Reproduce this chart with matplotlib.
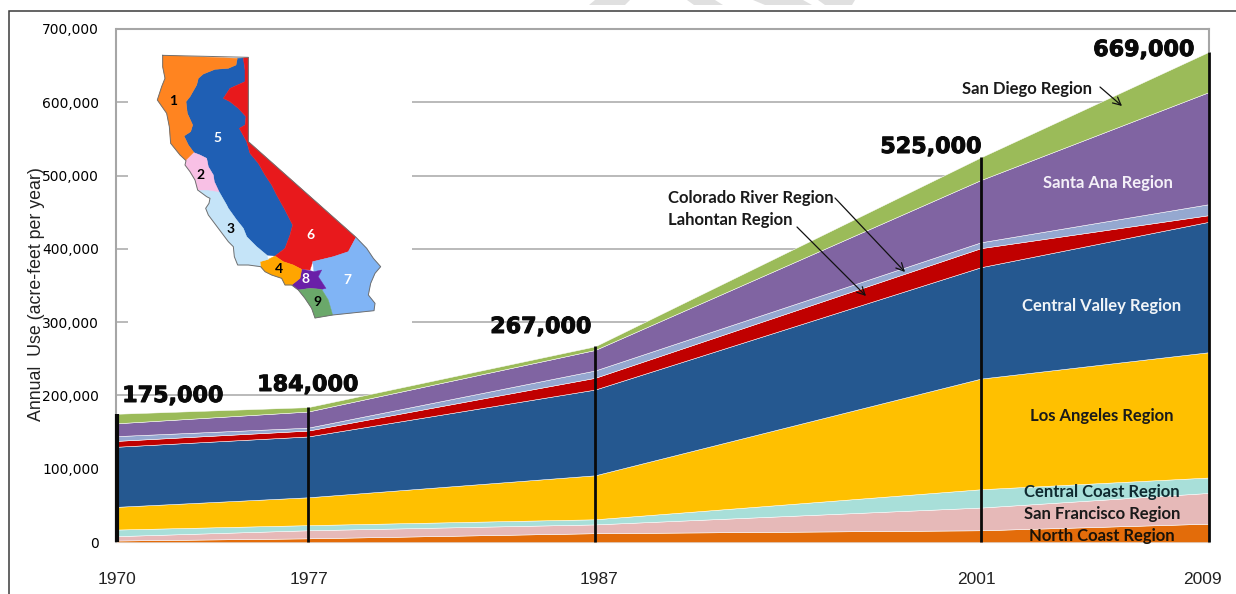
import numpy as np
import matplotlib
matplotlib.use("Agg")
import matplotlib.pyplot as plt
import matplotlib.patheffects as pe
from matplotlib.patches import Polygon, Rectangle
from matplotlib.transforms import ScaledTranslation

# ---- data (acre-feet per year, by region)
years = [1970, 1977, 1987, 2001, 2009]
north_coast = [2000, 5000, 12000, 16000, 25000]
san_francisco = [6000, 11000, 12000, 31000, 42000]
central_coast = [9000, 7000, 7000, 25000, 21000]
los_angeles = [31000, 38000, 60000, 151000, 171000]
central_valley = [82000, 83000, 117000, 152000, 178000]
lahontan = [8000, 8000, 16000, 26000, 9000]
colorado_river = [6500, 4000, 10000, 8000, 15000]
santa_ana = [17500, 22000, 28000, 85000, 153000]
san_diego = [13000, 6000, 5000, 31000, 55000]
totals = [175000, 184000, 267000, 525000, 669000]
total_labels = ["175,000", "184,000", "267,000", "525,000", "669,000"]
region_names = ["North Coast Region", "San Francisco Region", "Central Coast Region",
                "Los Angeles Region", "Central Valley Region", "Lahontan Region",
                "Colorado River Region", "Santa Ana Region", "San Diego Region"]
region_colors = ["#e36c0a", "#e6b9b8", "#a8dfd9", "#ffc000", "#255890",
                 "#c00000", "#95a8d0", "#8064a2", "#9bbb59"]
y_ticks = [0, 100000, 200000, 300000, 400000, 500000, 600000, 700000]

W, H = 1236, 594
fig = plt.figure(figsize=(W / 100, H / 100), dpi=100, facecolor="white")
AX_L, AX_R, AX_T, AX_B = 117, 1209, 29, 542
ax = fig.add_axes([AX_L / W, 1 - AX_B / H, (AX_R - AX_L) / W, (AX_B - AX_T) / H])

# The original axis is slightly uneven in time: keep its spacing
year_pos = np.array([0, 191, 478, 864, 1092], dtype=float)
ax.set_xscale("function", functions=(lambda v: np.interp(v, years, year_pos),
                                     lambda v: np.interp(v, year_pos, years)))
ax.set_xlim(1970, 2009)
ax.set_ylim(0, 700000)

ax.stackplot(years, north_coast, san_francisco, central_coast, los_angeles, central_valley,
             lahontan, colorado_river, santa_ana, san_diego,
             colors=region_colors, edgecolor="white", linewidth=0.35, zorder=3)

# vertical total bars
for i, (yr, tot) in enumerate(zip(years, totals)):
    ax.plot([yr, yr], [0, tot], color="#0a0a0a", lw=3.0 if i == 0 else 2.0,
            solid_capstyle="butt", zorder=4, clip_on=False)

ax.set_yticks(y_ticks)
ax.set_yticklabels([f"{v:,}" for v in y_ticks], fontname="Liberation Sans", fontsize=11, color="#333333")
ax.set_xticks(years)
ax.set_xticklabels([str(y) for y in years], fontname="Liberation Sans", fontsize=12.5, color="#222222")
ax.tick_params(axis="y", length=0, pad=12)
ax.tick_params(axis="x", length=0, pad=21.5)
for lab, dx in zip(ax.get_xticklabels(), [0, 1, 4, -5, -7]):
    lab.set_transform(lab.get_transform() + ScaledTranslation(dx / 100, 0, fig.dpi_scale_trans))
ax.grid(axis="y", color="#b4b4b4", lw=1.3, zorder=1)
ax.set_axisbelow(True)
ax.set_ylabel("Annual  Use (acre-feet per year)", fontname="Liberation Sans", fontsize=12.8, color="#222222")
ax.yaxis.set_label_coords((45 - AX_L) / (AX_R - AX_L), 1 - (294 - AX_T) / (AX_B - AX_T))
for name, sp in ax.spines.items():
    sp.set_color("#a6a6a6")
    sp.set_linewidth(1.5)
    sp.set_zorder(2)
ax.spines["left"].set_position(("outward", 1))

# overlay in image pixels for inset map, frame and callouts
ov = fig.add_axes([0, 0, 1, 1], facecolor="none", zorder=5)
ov.set_xlim(0, W)
ov.set_ylim(H, 0)
ov.axis("off")

# white panel behind the map hides the gridlines
ax.add_patch(Rectangle((128, 33), 284, 355, transform=ov.transData, facecolor="white",
                       edgecolor="none", zorder=2))

# frame and faint page artefacts
ov.plot([9, 9, W], [H, 11, 11], color="#3a3a3a", lw=1.1, solid_joinstyle="miter")
for poly in ([(595, 0), (630, 0), (625, 5), (589, 5)],
             [(687, 0), (715, 0), (723, 5), (694, 5)],
             [(753, 0), (803, 0), (812, 5), (765, 5)],
             [(818, 0), (855, 0), (852, 5), (825, 5)]):
    ov.add_patch(Polygon(poly, facecolor="#e0e0e0", edgecolor="none"))

# inset map of California hydrologic regions (outline traced in a 3x grid)
map_regions = {
    "5": ("#1f5fb4", [(712,175),(730,174),(735,210),(735,245),(690,265),(670,295),(690,305),(715,325),(738,350),
                      (735,375),(718,385),(740,425),(750,460),(775,490),(795,525),(815,555),(830,585),(855,630),
                      (878,675),(870,705),(855,745),(825,768),(800,765),(770,740),(740,710),(730,685),(710,660),
                      (685,625),(680,615),(657,575),(643,545),(640,525),(625,500),(620,475),(600,465),(582,458),
                      (565,435),(552,408),(572,395),(578,375),(562,340),(558,305),(570,290),(590,255),(595,235),
                      (610,222),(645,208),(685,205),(708,195)]),
    "1": ("#ff8420", [(488,166),(712,175),(708,195),(685,205),(645,208),(610,222),(595,235),(590,255),(570,290),
                      (558,305),(562,340),(578,375),(572,395),(552,408),(565,435),(582,458),(558,482),(540,465),
                      (512,430),(508,380),(500,340),(472,300),(485,260),(495,235),(488,200)]),
    "6": ("#e8191c", [(730,174),(745,172),(745,425),(1068,712),(1045,755),(1000,770),(938,785),(930,810),(905,808),
                      (880,795),(850,785),(825,768),(855,745),(870,705),(878,675),(855,630),(830,585),(815,555),
                      (795,525),(775,490),(750,460),(740,425),(718,385),(735,375),(738,350),(715,325),(690,305),
                      (670,295),(690,265),(735,245),(735,210)]),
    "7": ("#80b4f5", [(1068,712),(1100,745),(1120,775),(1142,800),(1125,820),(1112,850),(1105,885),(1125,910),
                      (1122,932),(998,945),(985,900),(965,868),(978,865),(955,830),(965,810),(942,815),(938,785),
                      (1000,770),(1045,755)]),
    "8": ("#6a1fa8", [(905,808),(930,812),(942,815),(965,810),(955,830),(978,865),(965,868),(930,865),(895,870),
                      (875,855),(900,835)]),
    "9": ("#6aa86a", [(895,870),(930,865),(965,868),(985,900),(998,945),(945,954),(935,925),(915,895)]),
    "4": ("#ffa500", [(780,785),(805,778),(825,768),(850,785),(880,795),(905,808),(900,835),(875,855),(855,855),
                      (845,835),(815,825),(795,815),(782,800)]),
    "3": ("#c5e4f8", [(593,570),(625,570),(657,575),(680,615),(685,625),(710,660),(730,685),(740,710),(770,740),
                      (800,765),(805,778),(780,785),(782,800),(745,795),(713,795),(703,770),(700,740),(685,725),
                      (655,685),(625,645),(617,625),(627,610),(630,595),(620,590)]),
    "2": ("#f8c0e5", [(582,458),(600,465),(620,475),(625,500),(640,525),(643,545),(657,575),(625,570),(593,570),
                      (585,540),(570,515),(555,495),(558,482)]),
}
for key, (col, pts) in map_regions.items():
    ov.add_patch(Polygon(np.array(pts) / 3.0, facecolor=col, edgecolor=col, lw=0.3, joinstyle="round"))
map_coast = [(488,166),(745,172),(745,425),(1068,712),(1100,745),(1120,775),(1142,800),(1125,820),(1112,850),
             (1105,885),(1125,910),(1122,932),(998,945),(945,954),(935,925),(915,895),(895,870),(875,855),
             (855,855),(845,835),(815,825),(795,815),(782,800),(745,795),(713,795),(703,770),(700,740),(685,725),
             (655,685),(625,645),(617,625),(627,610),(630,595),(620,590),(593,570),(585,540),(570,515),(555,495),
             (558,482),(540,465),(512,430),(508,380),(500,340),(472,300),(485,260),(495,235),(488,200),(488,166)]
ov.plot(*(np.array(map_coast) / 3.0).T, color="#707070", lw=0.7, solid_joinstyle="round")
map_numbers = {"1": (519,302,"black"), "2": (602,525,"black"), "3": (691,686,"black"), "4": (838,807,"black"),
               "5": (652,413,"white"), "6": (930,705,"white"), "7": (1041,840,"white"), "8": (917,838,"white"),
               "9": (951,905,"black")}
for key, (x, y, c) in map_numbers.items():
    ov.text(x / 3, y / 3, key, color=c, fontname="Lato", fontweight="bold", fontsize=10, ha="center", va="center")

# totals above the bars
total_xy = [(173, 396), (308, 385), (541, 327), (931, 147), (1144, 50)]
for (x, y), s in zip(total_xy, total_labels):
    ov.text(x, y, s, fontname="DejaVu Sans", fontweight="bold", fontsize=16, color="#0a0a0a",
            ha="center", va="center",
            path_effects=[pe.withStroke(linewidth=0.7, foreground="#0a0a0a")])

# region labels
lab = dict(fontname="Lato", fontweight="bold", fontsize=12, va="center")
ov.text(1108, 183, region_names[7], color="#f4f0f8", ha="center", **lab)
ov.text(1102, 306, region_names[4], color="#f0f4f8", ha="center", **lab)
ov.text(1102, 416, region_names[3], color="#1a1a1a", ha="center", **lab)
ov.text(1102, 492, region_names[2], color="#0f2a30", ha="center", **lab)
ov.text(1102, 514, region_names[1], color="#1a1a1a", ha="center", **lab)
ov.text(1102, 536, region_names[0], color="#1a1208", ha="center", **lab)
ov.text(1027, 89, region_names[8], color="#1a1a1a", ha="center", **lab)
ov.text(668, 198, region_names[6], color="#1a1a1a", ha="left", **lab)
ov.text(668, 220, region_names[5], color="#1a1a1a", ha="left", **lab)

arrow = dict(arrowstyle="->", color="#111111", lw=0.9, mutation_scale=14, shrinkA=0, shrinkB=0)
for start, end in [((1100, 87), (1122, 106)), ((835, 198), (905, 272)), ((797, 227), (866, 296))]:
    ov.annotate("", xy=end, xytext=start, arrowprops=arrow)

fig.savefig("out.png", dpi=100)
